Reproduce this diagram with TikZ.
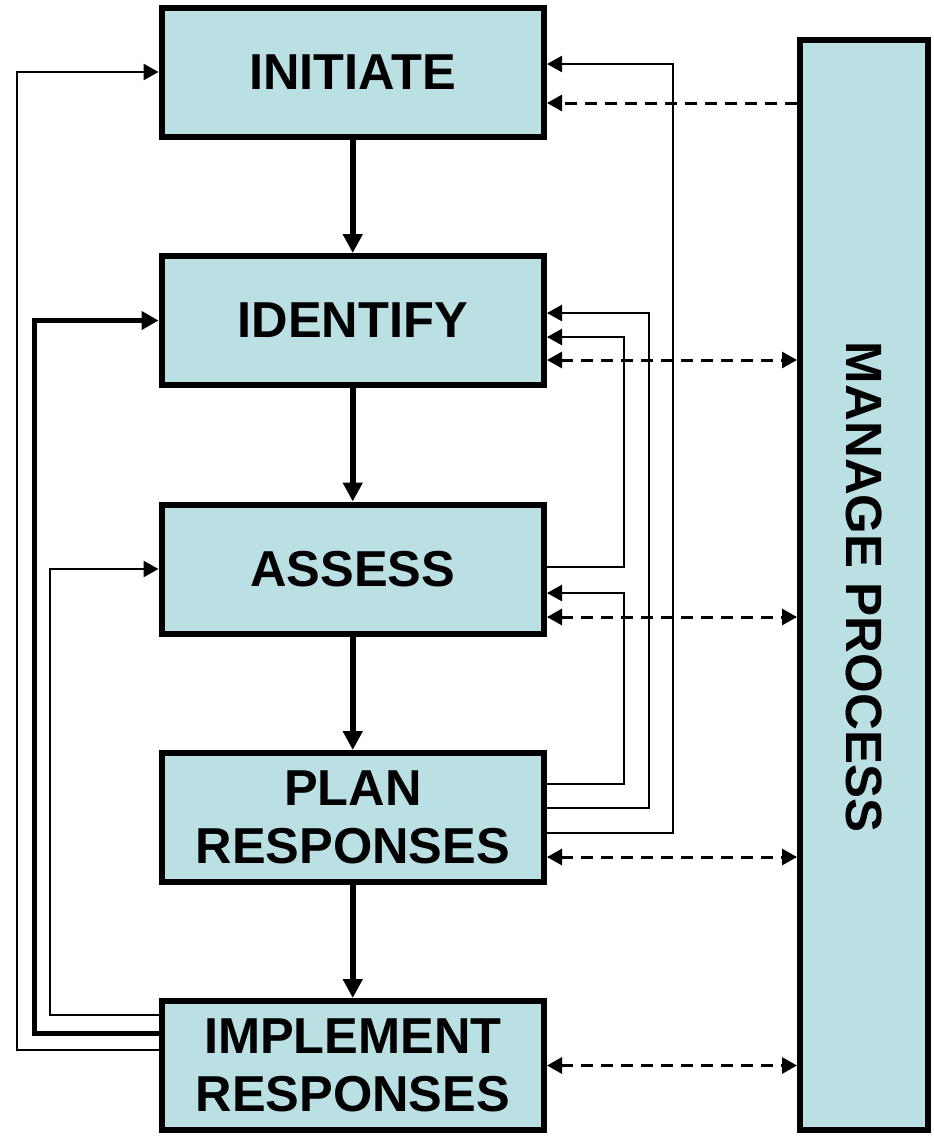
\documentclass[tikz,border=0pt]{standalone}
\usepackage{fontspec}
\setmainfont{Liberation Sans}
\usetikzlibrary{arrows.meta}
\definecolor{boxfill}{RGB}{186,224,228}
\begin{document}
\begin{tikzpicture}[x=1pt,y=-1pt,
  stage/.style={draw, line width=6pt, fill=boxfill, minimum width=382.5pt, minimum height=129pt,
    inner sep=0pt, align=center, font=\fontsize{50.5}{58}\selectfont\bfseries},
  mgr/.style={draw, line width=6pt, fill=boxfill, minimum width=128pt, minimum height=1090pt, inner sep=0pt},
  flow/.style={line width=6pt, -{Triangle[length=19pt,width=19pt]}},
  fb/.style={line width=2.5pt, -{Triangle[length=15pt,width=16pt]}},
  fbthick/.style={line width=5pt, -{Triangle[length=17pt,width=18pt]}},
  dsh/.style={line width=3pt, dash pattern=on 12pt off 8pt},
  tipA/.tip={Triangle[length=15pt,width=16pt]}
]
\useasboundingbox (0,0) rectangle (934,1136);

\node[stage] (initiate)  at (352.75,72)    {INITIATE};
\node[stage] (identify)  at (352.75,320.5) {IDENTIFY};
\node[stage] (assess)    at (352.75,569)   {ASSESS};
\node[stage] (plan)      at (352.75,817.5) {PLAN\\RESPONSES};
\node[stage] (implement) at (352.75,1065.5){IMPLEMENT\\RESPONSES};
\node[mgr] (manage) at (864,585) {};
\node[rotate=-90, font=\fontsize{51}{58}\selectfont\bfseries] (managetext) at (864,587) {MANAGE PROCESS};

% main flow
\draw[flow] (initiate.south) -- (identify.north);
\draw[flow] (identify.south) -- (assess.north);
\draw[flow] (assess.south) -- (plan.north);
\draw[flow] (plan.south) -- (implement.north);

% right-side feedback
\draw[fb] ([yshift=-15.5pt]plan.east) -- ++(126,0) |- ([yshift=8pt]initiate.east);
\draw[fb] ([yshift=9.5pt]plan.east) -- ++(102,0) |- ([yshift=7.5pt]identify.east);
\draw[fb] ([yshift=2pt]assess.east) -- ++(77,0) |- ([yshift=-16.5pt]identify.east);
\draw[fb] ([yshift=33.5pt]plan.east) -- ++(77,0) |- ([yshift=-24pt]assess.east);

% left-side feedback
\draw[fb] ([yshift=15.5pt]implement.west) -- ++(-141.5,0) |- (initiate.west);
\draw[fbthick] ([yshift=32.5pt]implement.west) -- ++(-124.5,0) |- (identify.west);
\draw[fb] ([yshift=50.5pt]implement.west) -- ++(-108.5,0) |- (assess.west);

% dashed links with manage process
\coordinate (d0) at ([yshift=-31pt]initiate.east);
\coordinate (d1) at ([yshift=-39.5pt]identify.east);
\coordinate (d2) at ([yshift=-48pt]assess.east);
\coordinate (d3) at ([yshift=-39.5pt]plan.east);
\coordinate (d4) at (implement.east);
\draw[dsh, -tipA] (d0 -| manage.west) -- (d0);
\draw[dsh, tipA-tipA] (d1) -- (d1 -| manage.west);
\draw[dsh, tipA-tipA] (d2) -- (d2 -| manage.west);
\draw[dsh, tipA-tipA] (d3) -- (d3 -| manage.west);
\draw[dsh, tipA-tipA] (d4) -- (d4 -| manage.west);
\end{tikzpicture}
\end{document}
